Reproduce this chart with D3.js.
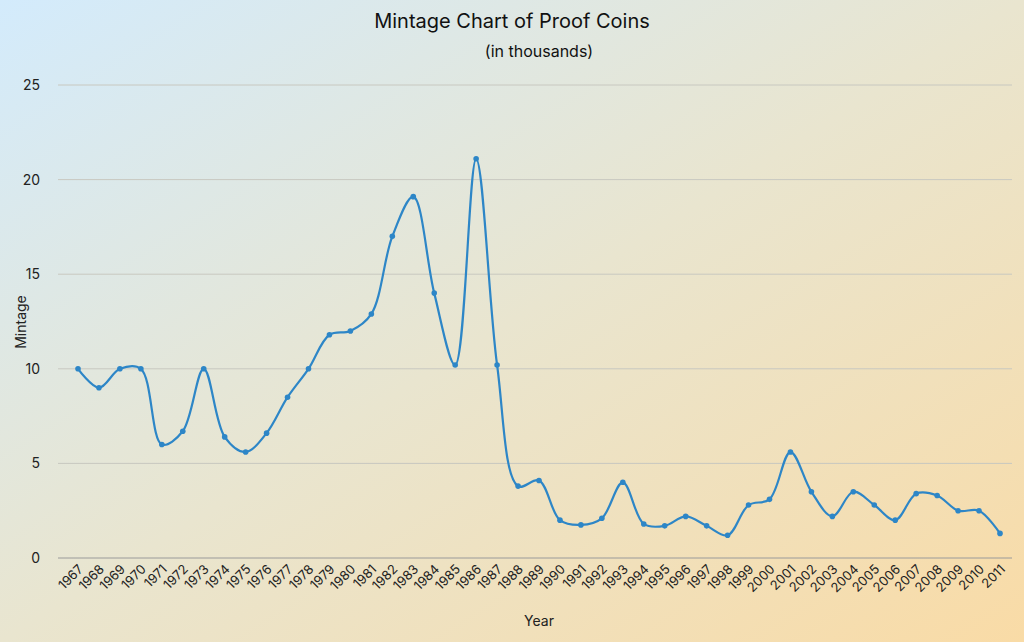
<!DOCTYPE html>
<html><head><meta charset="utf-8">
<script src="https://cdn.jsdelivr.net/npm/d3@7"></script>
<style>body{margin:0}svg{display:block;font-family:Inter,"Noto Sans",sans-serif}</style>
</head><body><svg id="chart" width="1024" height="642"></svg>
<script>
// mintage values, thousands
const years = d3.range(1967, 2012);
const mintage = [10, 9, 10, 10, 6, 6.7, 10, 6.4, 5.6, 6.6, 8.5, 10, 11.8, 12, 12.9, 17, 19.1, 14, 10.2, 21.1,
  10.2, 3.8, 4.1, 2, 1.75, 2.1, 4, 1.8, 1.7, 2.2, 1.7, 1.2, 2.8, 3.1, 5.6, 3.5, 2.2, 3.5, 2.8, 2, 3.4, 3.3, 2.5, 2.5, 1.3];
const yTicks = [0, 5, 10, 15, 20, 25];

const svg = d3.select("#chart");
const W = 1024, H = 642;
const m = {left: 78, right: 24, top: 85, bottom: 84};

// background gradient, blue top-left to orange bottom-right
const grad = svg.append("defs").append("linearGradient")
  .attr("id", "bg").attr("x1", "0").attr("y1", "0").attr("x2", "1").attr("y2", "1");
grad.append("stop").attr("offset", "0%").attr("stop-color", "#d3ebfc");
grad.append("stop").attr("offset", "50%").attr("stop-color", "#e9e5cf");
grad.append("stop").attr("offset", "100%").attr("stop-color", "#f9dba6");
svg.append("rect").attr("width", W).attr("height", H).attr("fill", "url(#bg)");

const x = d3.scalePoint().domain(years).range([m.left, W - m.right]);
const y = d3.scaleLinear().domain([0, 25]).range([H - m.bottom, m.top]);

// gridlines + y labels
svg.append("g").selectAll("line").data(yTicks).join("line")
  .attr("x1", 58).attr("x2", W - 12)
  .attr("y1", d => y(d)).attr("y2", d => y(d))
  .attr("stroke", d => d === 0 ? "#9a9a9a" : "#c8c8c0").attr("stroke-width", 1);
svg.append("g").selectAll("text").data(yTicks).join("text")
  .attr("x", 40).attr("y", d => y(d) + 5).attr("text-anchor", "end")
  .attr("font-size", 14).attr("fill", "#222").text(d => d);

// x labels, rotated
svg.append("g").selectAll("text").data(years).join("text")
  .attr("transform", d => `translate(${x(d) + 6},${H - m.bottom + 12}) rotate(-45)`)
  .attr("text-anchor", "end").attr("font-size", 13).attr("fill", "#222").text(d => d);

const pts = years.map((yr, i) => [x(yr), y(mintage[i])]);
svg.append("path")
  .attr("d", d3.line().curve(d3.curveCatmullRom.alpha(0.5))(pts))
  .attr("fill", "none").attr("stroke", "#2d86c7").attr("stroke-width", 2.2);
svg.append("g").selectAll("circle").data(pts).join("circle")
  .attr("cx", d => d[0]).attr("cy", d => d[1]).attr("r", 2.8).attr("fill", "#2d86c7");

svg.append("text").attr("x", 512).attr("y", 28).attr("text-anchor", "middle")
  .attr("font-size", 20).attr("fill", "#111").text("Mintage Chart of Proof Coins");
svg.append("text").attr("x", 539).attr("y", 57).attr("text-anchor", "middle")
  .attr("font-size", 16).attr("fill", "#111").text("(in thousands)");
svg.append("text").attr("x", 539).attr("y", 626).attr("text-anchor", "middle")
  .attr("font-size", 14).attr("fill", "#222").text("Year");
svg.append("text").attr("transform", "translate(26,322) rotate(-90)").attr("text-anchor", "middle")
  .attr("font-size", 14).attr("fill", "#222").text("Mintage");
</script></body></html>
